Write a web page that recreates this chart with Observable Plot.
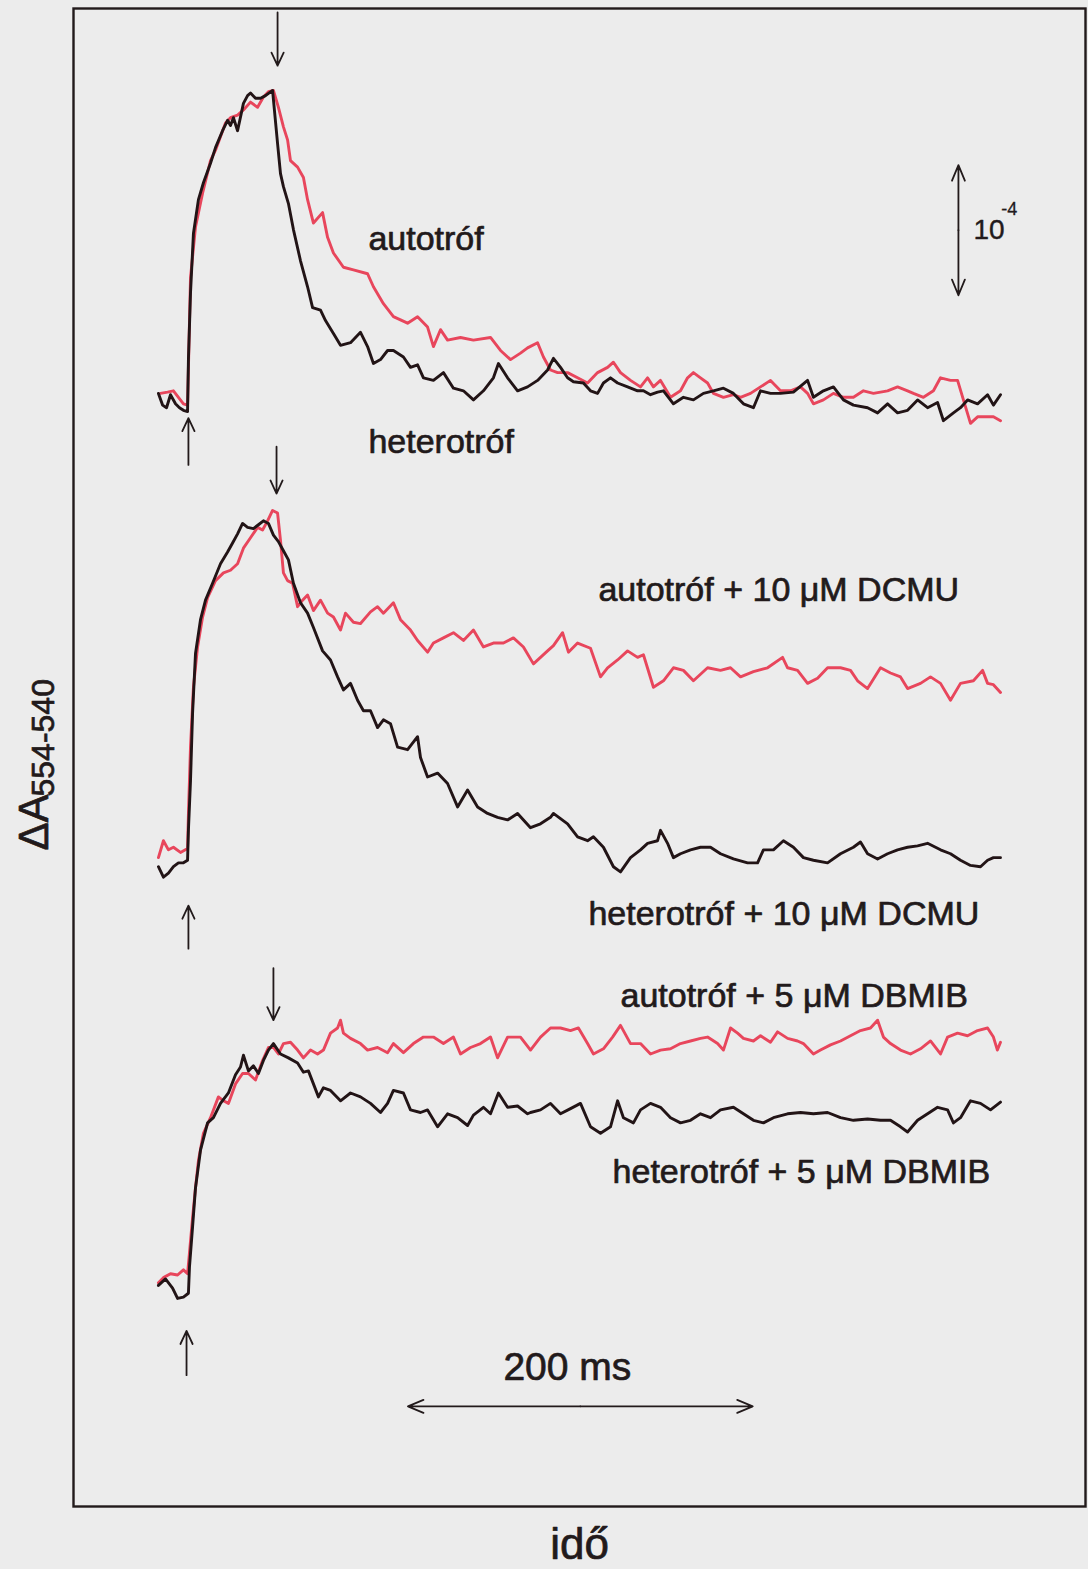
<!DOCTYPE html>
<html>
<head>
<meta charset="utf-8">
<script src="https://cdn.jsdelivr.net/npm/d3@7"></script>
<script src="https://cdn.jsdelivr.net/npm/@observablehq/plot@0.6"></script>
<style>
  html, body { margin: 0; padding: 0; background: #ececec; }
  #chart svg { display: block; }
</style>
</head>
<body>
<div id="chart"></div>
<script>
// ---- DATA (time in ms from flash-on; ΔA554-540 in units of 10^-5, relative to each trace's pre-flash level)
const panels = ["kontroll", "DCMU", "DBMIB"];
const panelOffset = [85, 50, 17];           // vertical stacking of the three pairs (10^-5 units)
const strains = ["autotróf", "heterotróf"];
const strainColor = ["#e8465c", "#221416"];

const autoCtrl = [[-14.5,0.6],[-10.4,0.7],[-7.0,0.8],[-4.1,0.3],[-1.2,-0.2],[1.2,-0.3],[2.9,9.5],[5.8,13.4],[9.9,16.0],[14.5,18.5],[17.4,19.3],[23.2,21.4],[26.1,21.8],[30.2,22.0],[33.6,22.4],[37.7,23.0],[41.8,22.6],[45.2,23.4],[48.1,23.8],[51.0,23.9],[53.9,22.6],[56.8,21.1],[59.2,20.1],[60.9,18.5],[65.0,18.0],[68.4,17.2],[70.8,15.5],[74.2,13.7],[79.5,14.5],[82.4,12.6],[85.8,11.4],[91.6,10.3],[97.4,10.1],[105.6,9.8],[109.0,8.8],[114.8,7.5],[120.6,6.5],[128.8,6.0],[134.6,6.5],[140.4,5.7],[143.8,4.2],[147.9,5.5],[152.0,4.7],[159.5,4.9],[167.0,4.7],[176.9,4.9],[182.7,3.9],[188.5,3.2],[194.3,3.7],[198.4,4.1],[204.2,4.5],[207.6,3.4],[211.7,2.4],[215.8,2.2],[221.6,2.2],[227.4,1.8],[233.2,1.4],[239.0,2.2],[244.8,2.6],[248.2,3.0],[252.3,2.2],[258.1,1.6],[263.9,1.1],[268.0,1.8],[271.4,1.1],[275.5,1.6],[281.3,0.3],[287.1,0.8],[291.2,1.8],[294.6,2.2],[298.7,1.8],[302.8,1.4],[306.2,0.6],[312.0,0.3],[317.8,0.5],[321.9,0.3],[327.7,0.6],[333.5,1.1],[339.3,1.6],[345.1,0.8],[350.9,0.8],[356.7,1.1],[360.8,0.6],[364.2,-0.2],[370.0,0.1],[375.8,0.6],[381.6,0.3],[387.4,0.3],[393.2,0.8],[399.0,0.6],[407.2,0.8],[413.0,1.1],[418.8,0.8],[422.2,0.6],[428.0,0.3],[433.8,0.8],[437.9,1.8],[443.7,1.6],[447.8,1.6],[451.2,0.1],[455.3,-1.7],[459.4,-1.2],[465.2,-1.2],[468.6,-1.2],[472.7,-1.5]];

const heteroCtrl = [[-15.7,0.6],[-13.3,-0.3],[-11.0,-0.5],[-8.7,0.5],[-5.8,-0.2],[-3.5,-0.5],[-1.2,-0.7],[1.2,-0.8],[1.7,3.2],[2.9,8.3],[4.6,12.9],[7.5,15.5],[10.4,16.8],[14.5,18.3],[17.4,19.5],[21.5,20.8],[24.4,21.6],[26.1,21.2],[27.8,21.8],[30.2,20.8],[33.6,22.9],[36.0,23.5],[37.7,23.7],[40.6,23.3],[43.5,23.3],[46.4,23.5],[50.5,23.9],[51.0,23.2],[53.4,19.8],[55.1,17.5],[56.8,16.5],[59.7,15.2],[62.6,13.2],[66.7,10.8],[70.8,8.8],[73.7,7.2],[78.3,7.0],[81.2,6.2],[85.8,5.2],[89.9,4.3],[95.7,4.5],[101.5,5.3],[105.6,4.2],[109.0,2.9],[113.1,3.2],[117.2,3.9],[120.6,3.9],[126.4,3.4],[130.5,2.6],[134.6,2.8],[138.0,1.8],[143.8,1.6],[149.6,2.2],[155.4,1.0],[161.2,0.8],[167.0,0.1],[172.8,0.8],[178.6,1.8],[181.5,2.9],[186.8,1.8],[192.6,0.8],[198.4,1.1],[204.2,1.6],[210.0,2.4],[213.4,3.3],[217.5,2.6],[221.6,1.8],[225.0,1.5],[230.8,1.4],[234.9,0.8],[239.0,0.6],[242.4,1.4],[246.5,1.8],[250.6,1.4],[256.4,1.1],[262.2,0.8],[265.6,0.8],[269.7,0.5],[273.8,0.7],[277.2,0.8],[283.0,-0.2],[288.8,0.3],[294.6,0.1],[300.4,0.6],[306.2,0.8],[312.0,1.0],[317.8,0.6],[323.6,-0.2],[329.4,-0.5],[333.5,0.8],[339.3,0.6],[345.1,0.6],[352.6,0.7],[360.8,1.6],[364.2,0.3],[370.0,0.8],[375.8,1.1],[381.6,0.1],[387.4,-0.3],[395.6,-0.5],[401.4,-0.9],[407.2,-0.2],[413.0,-0.9],[418.8,-0.7],[424.6,0.1],[430.4,-0.5],[436.2,-0.1],[439.6,-1.5],[445.4,-0.9],[449.5,-0.5],[453.6,0.1],[459.4,-0.2],[465.2,0.5],[468.6,-0.3],[472.7,0.5]];

const autoDCMU = [[-15.7,-0.1],[-12.8,1.2],[-9.9,0.5],[-7.0,0.7],[-2.9,0.3],[1.2,0.6],[1.7,3.3],[2.9,8.4],[4.6,13.0],[7.0,16.1],[9.9,18.4],[12.8,19.9],[17.4,21.2],[22.0,21.8],[26.1,22.0],[30.2,22.5],[33.6,23.7],[37.7,24.5],[41.8,25.3],[44.7,25.1],[47.6,25.8],[50.5,26.6],[53.4,26.4],[55.1,24.3],[56.8,21.8],[59.2,21.2],[62.1,21.0],[65.0,19.2],[67.9,19.7],[70.8,20.1],[74.2,18.9],[78.3,19.7],[82.4,18.7],[85.8,18.4],[89.9,17.4],[92.8,18.7],[97.4,18.0],[101.5,17.9],[107.3,18.8],[111.4,19.2],[114.8,18.7],[120.6,19.5],[124.7,18.2],[130.5,17.4],[134.6,16.6],[140.4,15.7],[143.8,16.4],[149.6,16.8],[155.4,17.2],[161.2,16.6],[167.0,17.4],[172.8,16.1],[178.6,16.4],[184.4,16.4],[190.2,16.8],[196.0,16.1],[201.8,14.8],[210.0,15.8],[213.4,16.2],[218.7,17.2],[222.1,15.7],[227.4,16.4],[234.9,16.0],[240.7,13.8],[244.8,14.5],[250.6,15.1],[256.4,15.8],[262.2,15.3],[265.6,15.5],[271.4,13.0],[277.2,13.5],[283.0,14.5],[288.8,14.3],[294.6,13.5],[302.8,14.5],[310.3,14.3],[316.1,14.5],[321.9,13.8],[329.4,14.2],[337.6,14.5],[346.3,15.3],[349.2,14.5],[355.0,14.3],[360.8,13.3],[366.6,13.7],[372.4,14.5],[379.9,14.5],[385.7,14.3],[389.8,13.5],[395.6,12.9],[403.1,14.5],[408.9,14.1],[414.7,13.8],[418.8,12.9],[426.3,13.3],[432.1,13.8],[437.9,13.3],[443.7,12.0],[449.5,13.3],[457.0,13.5],[462.3,14.3],[465.2,13.3],[468.6,13.2],[472.7,12.6]];

const heteroDCMU = [[-15.7,-0.8],[-12.8,-1.6],[-9.9,-1.3],[-7.0,-0.8],[-4.1,-0.5],[-1.2,-0.5],[1.2,-0.3],[1.7,2.0],[2.9,5.8],[4.1,11.0],[5.8,15.6],[8.7,18.2],[11.6,19.7],[15.7,21.0],[20.3,22.5],[24.4,23.4],[27.3,24.1],[30.2,24.8],[33.1,25.6],[36.0,25.3],[39.4,25.2],[42.3,25.5],[45.2,25.8],[48.1,25.6],[51.0,24.7],[53.9,24.2],[56.8,23.5],[59.7,22.8],[62.6,21.0],[66.7,19.5],[70.8,18.7],[74.2,17.6],[79.5,15.8],[84.1,15.1],[88.2,13.8],[91.6,12.8],[95.7,13.3],[99.8,12.0],[103.2,11.2],[107.3,11.2],[111.4,9.9],[114.8,10.5],[118.9,10.2],[123.0,8.4],[128.8,8.2],[134.6,9.2],[136.3,7.6],[140.4,6.1],[146.2,6.4],[152.0,5.6],[157.8,3.8],[163.6,5.1],[169.4,3.8],[175.2,3.3],[181.0,3.0],[186.8,2.8],[192.6,3.3],[200.1,2.2],[205.9,2.5],[211.7,3.0],[213.4,3.3],[221.6,2.5],[227.4,1.5],[233.2,1.2],[236.6,1.5],[242.4,0.7],[248.2,-0.8],[252.3,-1.2],[258.1,-0.1],[263.9,0.5],[268.0,1.0],[273.8,1.2],[275.5,2.0],[279.6,1.0],[283.0,-0.1],[287.1,0.2],[292.9,0.5],[298.7,0.7],[304.5,0.7],[310.3,0.2],[317.8,-0.2],[326.0,-0.5],[331.8,-0.5],[335.2,0.5],[341.0,0.5],[346.8,1.2],[352.6,0.7],[358.4,-0.1],[364.2,-0.3],[372.4,-0.5],[379.9,0.2],[387.4,0.7],[391.5,1.1],[395.6,0.2],[401.4,-0.2],[407.2,0.2],[413.0,0.5],[418.8,0.7],[424.6,0.8],[430.4,1.0],[437.9,0.5],[443.7,0.2],[449.5,-0.3],[455.3,-0.7],[461.1,-0.8],[465.2,-0.3],[468.6,-0.1],[472.7,-0.1]];

const autoDBMIB = [[-15.7,0.2],[-12.8,0.6],[-8.7,0.9],[-4.6,0.8],[-1.2,1.2],[1.2,0.9],[2.3,2.5],[4.1,5.2],[5.8,7.5],[7.5,9.6],[10.4,11.7],[14.5,12.9],[19.1,14.5],[22.0,14.2],[24.9,14.0],[29.0,15.5],[33.1,16.3],[36.5,16.3],[40.6,15.8],[44.7,17.3],[48.1,18.3],[51.0,18.3],[53.9,17.8],[56.8,18.6],[60.9,18.7],[65.0,18.1],[68.4,17.5],[72.5,18.1],[76.6,17.8],[80.0,18.1],[84.1,19.4],[88.2,19.8],[89.9,20.4],[91.6,19.4],[95.7,19.0],[101.5,18.6],[105.6,18.1],[111.4,18.3],[117.2,17.9],[120.6,18.6],[126.4,17.9],[132.2,18.6],[138.0,19.1],[143.8,19.1],[149.6,18.6],[155.4,19.1],[159.5,17.8],[165.3,18.3],[171.1,18.6],[176.9,19.1],[181.0,17.5],[186.8,19.1],[194.3,19.1],[200.1,18.1],[205.9,19.1],[211.7,19.8],[217.5,19.8],[223.3,19.6],[227.9,19.8],[233.2,18.6],[236.6,17.8],[242.4,18.2],[247.7,19.1],[252.3,20.0],[258.1,18.6],[263.9,18.6],[269.7,17.8],[275.5,18.1],[281.3,18.2],[287.1,18.6],[292.9,18.8],[298.7,19.0],[302.8,19.1],[308.6,18.6],[312.0,18.1],[316.1,19.8],[320.2,19.4],[323.6,19.0],[329.4,18.8],[333.5,19.2],[339.3,18.7],[343.4,19.5],[349.2,19.0],[355.0,18.8],[358.4,18.6],[364.2,17.8],[368.3,18.1],[374.1,18.5],[379.9,18.8],[385.7,19.2],[391.5,19.6],[397.3,19.8],[401.4,20.4],[404.8,19.1],[408.9,18.6],[414.7,18.1],[420.5,17.8],[426.3,18.2],[432.1,18.8],[437.9,17.8],[442.0,19.1],[447.8,19.4],[453.6,19.2],[459.4,19.6],[465.2,19.8],[468.6,19.1],[470.9,18.1],[472.7,18.7]];

const heteroDBMIB = [[-15.7,0.0],[-11.6,0.5],[-7.5,-0.2],[-4.6,-1.0],[-1.2,-0.9],[1.7,-0.6],[2.3,1.4],[4.1,4.5],[5.8,7.5],[8.7,10.4],[12.8,12.5],[16.2,12.9],[20.3,14.0],[24.9,14.8],[29.0,16.2],[31.9,16.8],[33.6,17.7],[36.5,16.5],[39.4,16.9],[42.3,16.3],[45.2,17.3],[48.1,18.1],[51.0,18.6],[55.1,17.8],[59.7,17.5],[65.0,17.1],[68.4,16.4],[71.3,16.5],[74.2,15.5],[77.1,14.5],[80.0,15.2],[84.1,15.0],[89.9,14.2],[95.7,14.8],[101.5,14.5],[107.3,14.0],[113.1,13.3],[117.2,14.0],[120.6,15.0],[126.4,14.8],[130.5,13.5],[136.3,13.3],[140.4,13.5],[146.2,12.2],[152.0,13.2],[157.8,12.9],[163.6,12.3],[167.0,13.1],[172.8,13.7],[176.9,13.2],[181.5,14.8],[186.8,13.7],[192.6,13.8],[198.4,13.2],[200.1,13.3],[205.9,13.5],[211.7,14.0],[217.5,13.2],[223.3,13.6],[229.1,14.0],[234.9,12.2],[240.7,11.7],[246.5,12.2],[250.6,14.2],[254.0,12.9],[259.8,12.5],[263.9,13.5],[269.7,14.0],[275.5,13.7],[281.3,12.9],[287.1,12.5],[292.9,12.7],[298.7,13.2],[304.5,12.9],[310.3,13.5],[317.8,13.7],[323.6,13.2],[329.4,12.7],[335.2,12.5],[341.0,12.9],[349.2,13.2],[356.7,13.3],[364.2,13.2],[372.4,13.3],[379.9,12.9],[387.4,12.7],[395.6,12.8],[403.1,12.7],[408.9,12.7],[414.7,12.2],[418.8,11.8],[424.6,12.7],[430.4,13.2],[436.2,13.7],[442.0,13.5],[445.4,12.5],[449.5,12.9],[455.3,14.2],[461.1,14.0],[466.9,13.5],[472.7,14.1]];

const traces = [
  {panel: 0, strain: 0, points: autoCtrl},
  {panel: 0, strain: 1, points: heteroCtrl},
  {panel: 1, strain: 0, points: autoDCMU},
  {panel: 1, strain: 1, points: heteroDCMU},
  {panel: 2, strain: 0, points: autoDBMIB},
  {panel: 2, strain: 1, points: heteroDBMIB}
];

// flash on / off markers (ms) and their arrow spans (10^-5 units, absolute stacked level)
const flashOn  = [1.7, 1.7, 0.6];
const flashOnSpan  = [[80.1, 83.7], [42.9, 46.2], [10.1, 13.5]];
const flashOff = [53.4, 52.8, 51.0];
const flashOffSpan = [[114.9, 110.8], [81.5, 77.9], [41.4, 37.4]];

// scale bars
const timeBar = {t1: 129, t2: 329, level: 7.7, label: "200 ms"};
const absBar = {t: 448.3, v1: 93.15, v2: 103.15, label: "10", exp: "-4"};

// labels
const labels = [
  {text: "autotróf",                 t: 106.1, v: 96.6},
  {text: "heterotróf",               t: 106.1, v: 81.0},
  {text: "autotróf + 10 μM DCMU",    t: 239.5, v: 69.6},
  {text: "heterotróf + 10 μM DCMU",  t: 233.7, v: 44.7},
  {text: "autotróf + 5 μM DBMIB",    t: 252.3, v: 38.4},
  {text: "heterotróf + 5 μM DBMIB",  t: 247.7, v: 24.9}
];

// ---- build table
const rows = [];
traces.forEach((tr, k) => {
  tr.points.forEach(([t, v]) => rows.push({
    key: k, t, v, y: panelOffset[tr.panel] + v,
    strain: strains[tr.strain], panel: panels[tr.panel]
  }));
});
const redRows = rows.filter(d => d.strain === strains[0]);
const blackRows = rows.filter(d => d.strain === strains[1]);

const onArrows = flashOn.map((t, i) => ({t, v1: flashOnSpan[i][0], v2: flashOnSpan[i][1]}));
const offArrows = flashOff.map((t, i) => ({t, v1: flashOffSpan[i][0], v2: flashOffSpan[i][1]}));
const ink = "#221a1b";
const txt = {fill: ink, stroke: ink, strokeWidth: 0.7};

const chart = Plot.plot({
  width: 1088,
  height: 1569,
  marginLeft: 73,
  marginRight: 3,
  marginTop: 8,
  marginBottom: 63,
  style: {background: "transparent", fontFamily: "'Liberation Sans', Arial, sans-serif", color: ink},
  x: {domain: [-64.96, 522], axis: null},
  y: {domain: [0, 115.2], axis: null},
  marks: [
    Plot.frame({stroke: ink, strokeWidth: 2.4}),
    Plot.line(redRows, {x: "t", y: "y", z: "key", stroke: strainColor[0], strokeWidth: 2.9, strokeLinejoin: "round"}),
    Plot.line(blackRows, {x: "t", y: "y", z: "key", stroke: strainColor[1], strokeWidth: 2.9, strokeLinejoin: "round"}),
    // flash arrows
    Plot.arrow(onArrows, {x1: "t", x2: "t", y1: "v1", y2: "v2", stroke: ink, strokeWidth: 1.8, headLength: 12, headAngle: 50}),
    Plot.arrow(offArrows, {x1: "t", x2: "t", y1: "v1", y2: "v2", stroke: ink, strokeWidth: 1.8, headLength: 12, headAngle: 50}),
    // time scale bar (double headed)
    Plot.arrow([timeBar], {x1: d => (d.t1 + d.t2) / 2, x2: "t1", y1: "level", y2: "level", stroke: ink, strokeWidth: 1.8, headLength: 14, headAngle: 45}),
    Plot.arrow([timeBar], {x1: d => (d.t1 + d.t2) / 2, x2: "t2", y1: "level", y2: "level", stroke: ink, strokeWidth: 1.8, headLength: 14, headAngle: 45}),
    Plot.text([timeBar], {x: 184.4, y: 9.7, text: "label", textAnchor: "start", lineAnchor: "bottom", fontSize: 39, ...txt}),
    // absorbance scale bar
    Plot.arrow([absBar], {x1: "t", x2: "t", y1: d => (d.v1 + d.v2) / 2, y2: "v2", stroke: ink, strokeWidth: 1.8, headLength: 14, headAngle: 45}),
    Plot.arrow([absBar], {x1: "t", x2: "t", y1: d => (d.v1 + d.v2) / 2, y2: "v1", stroke: ink, strokeWidth: 1.8, headLength: 14, headAngle: 45}),
    Plot.text([absBar], {x: 457.0, y: 97.5, text: "label", textAnchor: "start", lineAnchor: "bottom", fontSize: 28, fill: ink, stroke: ink, strokeWidth: 0.4}),
    Plot.text([absBar], {x: 473.2, y: 99.3, text: "exp", textAnchor: "start", lineAnchor: "bottom", fontSize: 18, fill: ink, stroke: ink, strokeWidth: 0.3}),
    // trace labels
    Plot.text(labels, {x: "t", y: "v", text: "text", textAnchor: "start", lineAnchor: "bottom", fontSize: 34, ...txt}),
    // axis titles
    Plot.text(["idő"], {frameAnchor: "bottom", dy: 52, lineAnchor: "bottom", fontSize: 44, ...txt}),
    Plot.text(["ΔA"], {frameAnchor: "left", dx: -26, dy: 93, rotate: -90, textAnchor: "start", lineAnchor: "bottom", fontSize: 42, ...txt}),
    Plot.text(["554-540"], {frameAnchor: "left", dx: -20, dy: 39, rotate: -90, textAnchor: "start", lineAnchor: "bottom", fontSize: 32, ...txt})
  ]
});
document.getElementById("chart").appendChild(chart);
</script>
</body>
</html>
